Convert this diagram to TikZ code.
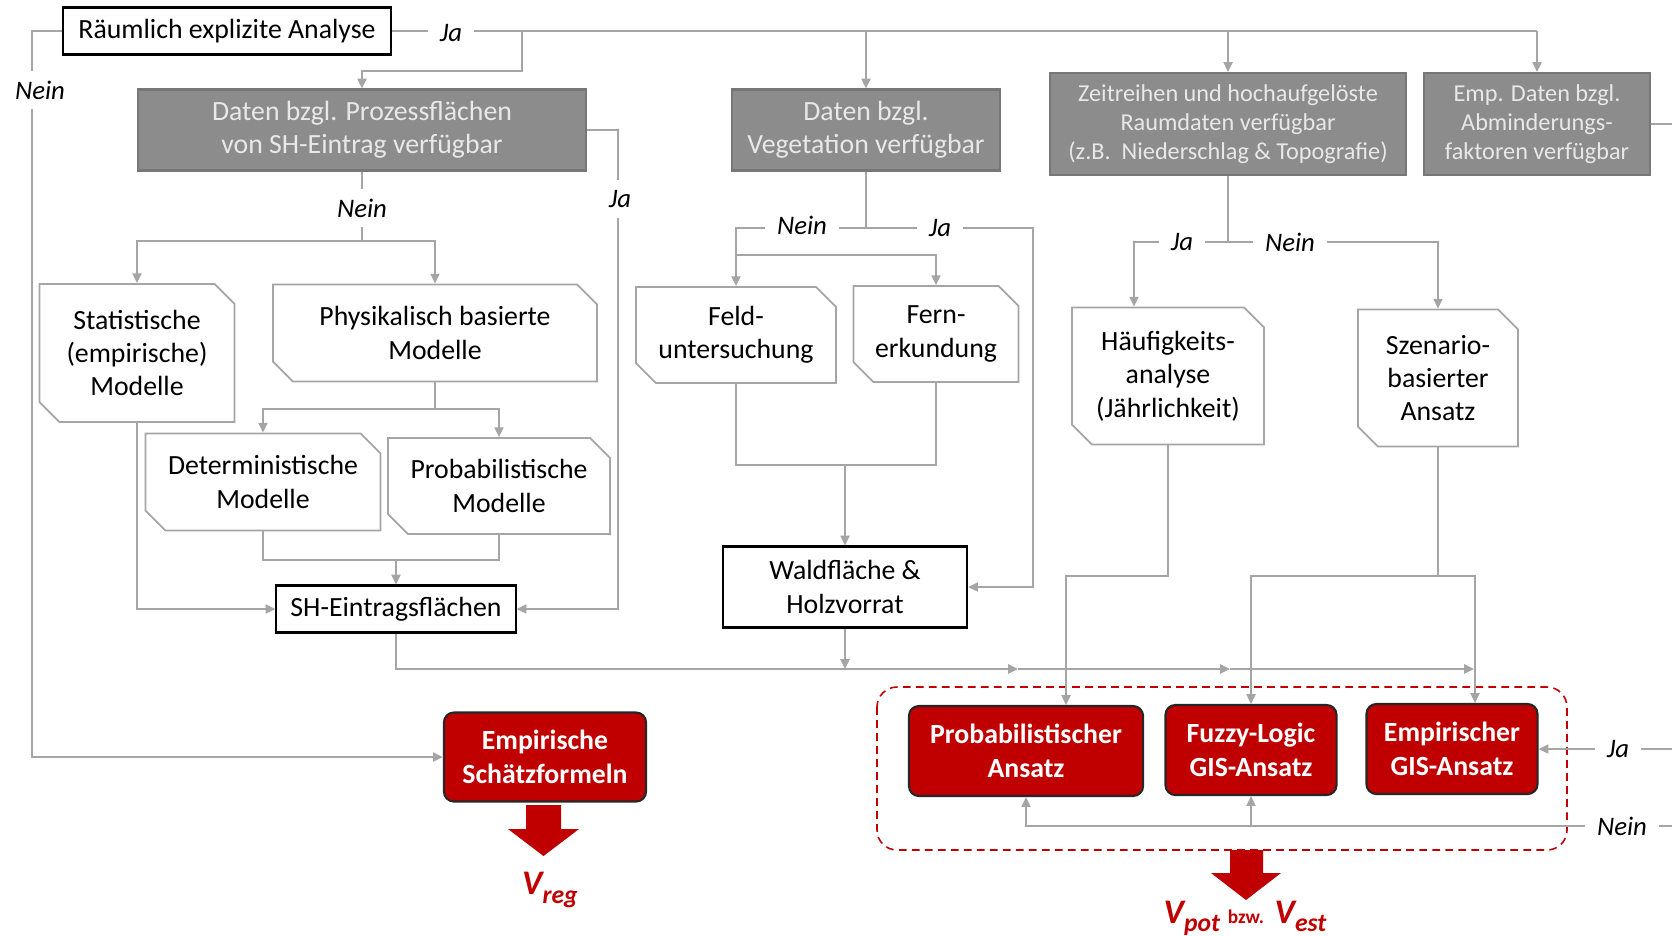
\documentclass[tikz,border=0pt]{standalone}
\usepackage{fontspec}
\setmainfont{Carlito}
\usetikzlibrary{arrows.meta,shapes.misc}
\definecolor{linegray}{RGB}{165,165,165}
\definecolor{boxgray}{RGB}{140,140,140}
\definecolor{boxtext}{RGB}{232,232,232}
\definecolor{darkred}{RGB}{192,0,0}

\begin{document}
\begin{tikzpicture}[x=0.01cm,y=-0.01cm]
\tikzstyle{conn}=[draw=linegray,line width=0.5pt]
\tikzstyle{arr}=[conn,-{Triangle[length=2.8pt,width=2.6pt]}]
\tikzstyle{box}=[draw=black,line width=0.6pt,fill=white,align=center,inner sep=0pt,font=\fontsize{7.9}{9.5}\selectfont]
\tikzstyle{graybox}=[box,draw=boxgray!85!black,fill=boxgray,text=boxtext]
\tikzstyle{smallgray}=[graybox,font=\fontsize{6.9}{8.3}\selectfont]
\tikzstyle{chambox}=[box,draw=linegray,line width=0.5pt,chamfered rectangle,chamfered rectangle corners={north east,south west},chamfered rectangle sep=0.1cm]
\tikzstyle{redbox}=[box,draw=black!85,fill=darkred,text=white,rounded corners=0.1cm,font=\fontsize{7.9}{9.5}\selectfont\bfseries]
\tikzstyle{yesno}=[fill=white,inner xsep=0.12cm,inner ysep=0.1cm,font=\fontsize{7.6}{9}\selectfont\itshape]
\tikzstyle{bigarrow}=[fill=darkred]
\tikzstyle{result}=[text=darkred,inner sep=0pt,font=\bfseries\itshape]

\useasboundingbox (0,0) rectangle (1672,935);

\node[box,minimum width=3.28cm,minimum height=0.47cm] (rea) at (227,31) {Räumlich explizite Analyse};
\node[graybox,minimum width=4.48cm,minimum height=0.81cm] (proz) at (362,130) {Daten bzgl. Prozessflächen\\von SH-Eintrag verfügbar};
\node[graybox,minimum width=2.68cm,minimum height=0.81cm] (veg) at (866,130) {Daten bzgl.\\Vegetation verfügbar};
\node[smallgray,minimum width=3.56cm,minimum height=1.02cm] (zeit) at (1228,124) {Zeitreihen und hochaufgelöste\\Raumdaten verfügbar\\(z.B.\ \ Niederschlag \& Topografie)};
\node[smallgray,minimum width=2.26cm,minimum height=1.02cm] (emp) at (1537,124) {Emp. Daten bzgl.\\Abminderungs-\\faktoren verfügbar};

\node[chambox,minimum width=1.95cm,minimum height=1.38cm] (stat) at (137,353) {Statistische\\(empirische)\\Modelle};
\node[chambox,minimum width=3.24cm,minimum height=0.97cm] (phys) at (435,333) {Physikalisch basierte\\Modelle};
\node[chambox,minimum width=2.35cm,minimum height=0.97cm] (det) at (263,482) {Deterministische\\Modelle};
\node[chambox,minimum width=2.22cm,minimum height=0.96cm] (prob) at (499,486) {Probabilistische\\Modelle};
\node[box,minimum width=2.39cm,minimum height=0.47cm] (sh) at (396,609) {SH-Eintragsflächen};
\node[chambox,minimum width=2cm,minimum height=0.96cm] (feld) at (736,335) {Feld-\\untersuchung};
\node[chambox,minimum width=1.65cm,minimum height=0.96cm] (fern) at (936,334) {Fern-\\erkundung};
\node[box,minimum width=2.44cm,minimum height=0.81cm] (wald) at (845,587) {Waldfläche \&\\Holzvorrat};
\node[chambox,minimum width=1.92cm,minimum height=1.37cm] (haeuf) at (1168,376) {Häufigkeits-\\analyse\\(Jährlichkeit)};
\node[chambox,minimum width=1.6cm,minimum height=1.37cm] (szen) at (1438,378) {Szenario-\\basierter\\Ansatz};
\node[redbox,minimum width=2.02cm,minimum height=0.89cm] (schaetz) at (545,757) {Empirische\\Schätzformeln};
\node[redbox,minimum width=2.34cm,minimum height=0.9cm] (probA) at (1026,751) {Probabilistischer\\Ansatz};
\node[redbox,minimum width=1.71cm,minimum height=0.9cm] (fuzzy) at (1251,750) {Fuzzy-Logic\\GIS-Ansatz};
\node[redbox,minimum width=1.71cm,minimum height=0.9cm] (empgis) at (1452,749) {Empirischer\\GIS-Ansatz};

\draw[darkred,line width=0.45pt,dash pattern=on 2.2pt off 1.5pt,rounded corners=0.2cm] (877,687) rectangle (1567,850);

\coordinate (t1) at (522,31);
\coordinate (t1b) at (522,71);
\coordinate (t2) at (866,31);
\coordinate (t3) at (1228,31);
\coordinate (t4) at (1537,31);
\coordinate (l1) at (32,31);
\draw[conn] (rea.east) -- (t4);
\draw[arr] (t1) -- (t1b) -| (proz.north);
\draw[arr] (t2) -- (veg.north);
\draw[arr] (t3) -- (zeit.north);
\draw[arr] (t4) -- (emp.north);
\draw[arr] (rea.west) -- (l1) |- (schaetz.west);

\coordinate (p1) at (618,130);
\coordinate (p2) at (362,241);
\draw[arr] (proz.east) -- (p1) |- (sh.east);
\draw[conn] (proz.south) -- (p2);
\draw[arr] (p2) -| (stat.north);
\draw[arr] (p2) -| (phys.north);

\coordinate (ph1) at (435,409);
\coordinate (dp) at (396,560);
\draw[conn] (phys.south) -- (ph1);
\draw[arr] (ph1) -| (det.north);
\draw[arr] (ph1) -| (prob.north);
\draw[conn] (det.south) |- (dp) -| (prob.south);
\draw[arr] (dp) -- (sh.north);
\draw[arr] (stat.south) |- (sh.west);

\coordinate (s1) at (1018,669);
\coordinate (s2) at (1230,669);
\coordinate (s3) at (1474,669);
\draw[arr] (sh.south) |- (s1);
\draw[arr] (s1) -- (s2);
\draw[arr] (s2) -- (s3);
\draw[arr] (wald.south) -- (wald.south |- s1);

\coordinate (v1) at (866,228);
\coordinate (v2) at (736,228);
\coordinate (v3) at (736,255);
\coordinate (v4) at (1033,228);
\coordinate (ff) at (845,465);
\draw[conn] (veg.south) -- (v1);
\draw[arr] (v1) -- (v2) -- (feld.north);
\draw[arr] (v3) -| (fern.north);
\draw[arr] (v1) -- (v4) |- (wald.east);
\draw[conn] (feld.south) |- (ff) -| (fern.south);
\draw[arr] (ff) -- (wald.north);

\coordinate (z1) at (1228,242);
\coordinate (z2) at (1134,242);
\draw[conn] (zeit.south) -- (z1);
\draw[arr] (z1) -- (z2) -- (z2 |- haeuf.north);
\draw[arr] (z1) -| (szen.north);

\coordinate (hf) at (1066,576);
\coordinate (sz) at (1438,576);
\coordinate (sz1) at (1251,576);
\coordinate (sz2) at (1475,576);
\draw[arr] (haeuf.south) |- (hf) -- (hf |- probA.north);
\draw[conn] (szen.south) -- (sz);
\draw[arr] (sz) -- (sz1) -- (fuzzy.north);
\draw[arr] (sz) -- (sz2) -- (sz2 |- empgis.north);

\coordinate (e1) at (1672,124);
\coordinate (e2) at (1672,749);
\coordinate (e3) at (1672,826);
\coordinate (e4) at (1026,826);
\draw[conn] (emp.east) -- (e1);
\draw[arr] (e2) -- (empgis.east);
\draw[arr] (e3) -- (e4) -- (probA.south);
\draw[arr] (fuzzy.south |- e3) -- (fuzzy.south);

\node[yesno] (ja1) at (451,33) {Ja};
\node[yesno] (nein1) at (40,90) {Nein};
\node[yesno] (nein2) at (362,208) {Nein};
\node[yesno] (ja2) at (620,199) {Ja};
\node[yesno] (nein3) at (802,225) {Nein};
\node[yesno] (ja3) at (940,228) {Ja};
\node[yesno] (ja4) at (1182,242) {Ja};
\node[yesno] (nein4) at (1290,242) {Nein};
\node[yesno] (ja5) at (1618,749) {Ja};
\node[yesno] (nein5) at (1622,826) {Nein};

\fill[bigarrow] (526,805) -- (561,805) -- (561,829) -- (579,829) -- (543.5,856) -- (508,829) -- (526,829) -- cycle;
\fill[bigarrow] (1230,850) -- (1263,850) -- (1263,873) -- (1281,873) -- (1246,900) -- (1211,873) -- (1230,873) -- cycle;

\node[result] (vreg) at (550,890) {{\fontsize{9.8}{10}\selectfont V}\raisebox{-2.3pt}{\fontsize{7.3}{8}\selectfont reg}};
\node[result] (vpotest) at (1245,918) {{\fontsize{9.8}{10}\selectfont V}\raisebox{-2.3pt}{\fontsize{7.3}{8}\selectfont pot} {\fontsize{5.5}{6}\selectfont\upshape bzw.} {\fontsize{9.8}{10}\selectfont V}\raisebox{-2.3pt}{\fontsize{7.3}{8}\selectfont est}};
\end{tikzpicture}
\end{document}
